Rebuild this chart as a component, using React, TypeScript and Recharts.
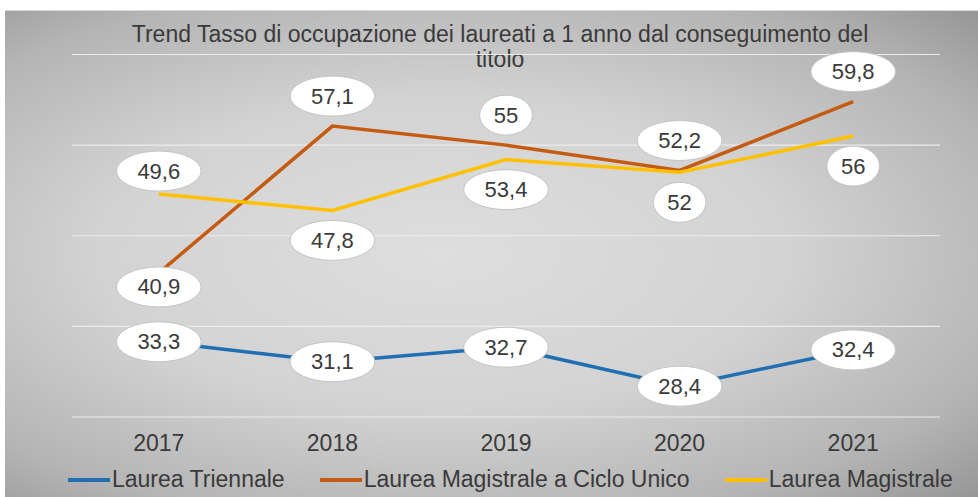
import { LineChart, Line, XAxis, YAxis, CartesianGrid, LabelList } from 'recharts';

const years = ['2017', '2018', '2019', '2020', '2021'];
const triennale = [33.3, 31.1, 32.7, 28.4, 32.4];
const cicloUnico = [40.9, 57.1, 55, 52.2, 59.8];
const magistrale = [49.6, 47.8, 53.4, 52, 56];
const yTicks = [25, 35, 45, 55];

// where each bubble sits relative to its point (px, negative = above)
const cicloUnicoShift = [14, -30, -30, -30, -30];
const magistraleShift = [-23, 30, 30, 30, 30];
const triennaleShift = [0, 0, 0, 0, 0];

const series = [
  { key: 'triennale', name: 'Laurea Triennale', color: '#1f6fb2', shift: triennaleShift },
  { key: 'cicloUnico', name: 'Laurea Magistrale a Ciclo Unico', color: '#c55a11', shift: cicloUnicoShift },
  { key: 'magistrale', name: 'Laurea Magistrale', color: '#ffc000', shift: magistraleShift },
];

const data = years.map((year, i) => ({
  year,
  triennale: triennale[i],
  cicloUnico: cicloUnico[i],
  magistrale: magistrale[i],
}));

const FONT = "'Liberation Sans', Arial, sans-serif";
const TEXT = '#3a3a3a';

const fmt = (v: number) => String(v).replace('.', ',');

const textWidth = (s: string) =>
  s.split('').reduce((w, c) => w + (c === ',' ? 6.1 : 12.2), 0);

function makeBubble(shift: number[]) {
  return (props: any) => {
    const { x, y, value, index } = props;
    const label = fmt(value);
    const rx = textWidth(label) * 0.875 + 5;
    const cy = y + shift[index];
    return (
      <g>
        <ellipse cx={x} cy={cy} rx={rx} ry={20} fill="#fff" stroke="#c4c4c4" strokeWidth={1} />
        <text
          x={x}
          y={cy}
          textAnchor="middle"
          dominantBaseline="central"
          fontSize={22}
          fontFamily={FONT}
          fill={TEXT}
        >
          {label}
        </text>
      </g>
    );
  };
}

export default function App() {
  return (
    <div style={{ position: 'fixed', left: 0, top: 0, width: 978, height: 497, background: '#fff', overflow: 'hidden' }}>
      <div
        style={{
          position: 'absolute',
          left: 5,
          top: 10,
          right: 0,
          bottom: 0,
          background:
            'radial-gradient(ellipse at 45% 50%, #dedede 0%, #d3d3d3 45%, #b4b4b4 80%, #969696 100%)',
          borderTop: '1px solid #d8d8d8',
        }}
      />
      <div
        style={{
          position: 'absolute',
          left: 0,
          top: 22,
          width: 1000,
          textAlign: 'center',
          fontFamily: FONT,
          fontSize: 23,
          lineHeight: '25px',
          color: TEXT,
        }}
      >
        Trend Tasso di occupazione dei laureati a 1 anno dal conseguimento del
        <br />
        titolo
      </div>
      <div style={{ position: 'absolute', left: 0, top: 0 }}>
        <LineChart width={978} height={497} data={data} margin={{ top: 54.5, right: 38, bottom: 50, left: 72 }}>
          <CartesianGrid vertical={false} stroke="#ececec" strokeWidth={1.2} />
          <XAxis
            dataKey="year"
            axisLine={false}
            tickLine={false}
            height={30}
            tickMargin={12}
            padding={{ left: 86.8, right: 86.8 }}
            tick={{ fontSize: 23, fontFamily: FONT, fill: TEXT }}
          />
          <YAxis hide domain={[25, 65]} ticks={yTicks} />
          {series.map((s) => (
            <Line
              key={s.key}
              dataKey={s.key}
              name={s.name}
              stroke={s.color}
              strokeWidth={3.5}
              dot={false}
              activeDot={false}
              isAnimationActive={false}
            >
              <LabelList dataKey={s.key} content={makeBubble(s.shift)} />
            </Line>
          ))}
        </LineChart>
      </div>
      <div
        style={{
          position: 'absolute',
          left: 68,
          top: 466,
          display: 'flex',
          alignItems: 'center',
          fontFamily: FONT,
          fontSize: 23,
          color: TEXT,
          whiteSpace: 'nowrap',
        }}
      >
        {series.map((s) => (
          <div key={s.key} style={{ display: 'flex', alignItems: 'center', marginRight: 35 }}>
            <span style={{ display: 'inline-block', width: 42, height: 4, background: s.color, marginRight: 2 }} />
            <span>{s.name}</span>
          </div>
        ))}
      </div>
    </div>
  );
}
